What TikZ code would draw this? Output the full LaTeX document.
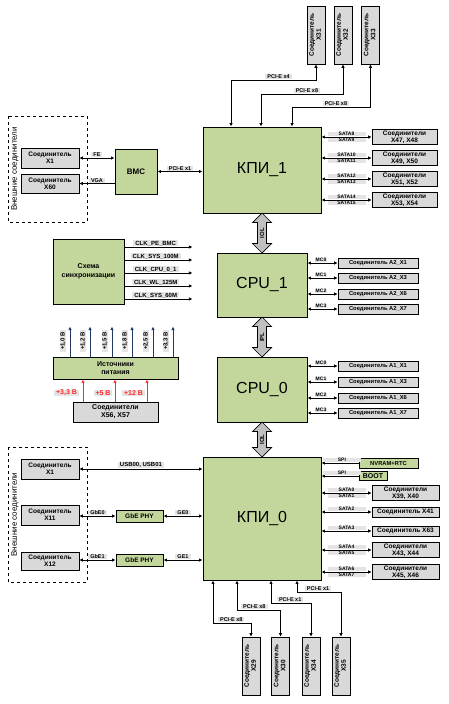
\documentclass[tikz,border=0pt]{standalone}
\usepackage{fontspec}
\setmainfont{Liberation Sans}
\usetikzlibrary{arrows.meta,shapes.arrows}
\definecolor{blkgreen}{HTML}{C3D69B}
\definecolor{conngray}{HTML}{D9D9D9}
\definecolor{lblgray}{HTML}{E4E4E4}
\definecolor{fatgray}{HTML}{C0C0C0}
\definecolor{railblue}{HTML}{1F3864}
\definecolor{pwrred}{HTML}{FF2A2A}
\newcommand{\fs}[1]{\fontsize{#1}{#1}\selectfont}
\newcommand{\vlab}[1]{\rotatebox{90}{\begin{tabular}{@{}c@{}}#1\end{tabular}}}
\tikzset{
  blk/.style={draw, fill=blkgreen, line width=0.9pt, align=center, inner sep=1pt},
  conn/.style={draw, fill=conngray, line width=0.8pt, align=center, inner sep=0.5pt,
    font=\fontsize{6.5}{7}\selectfont\bfseries},
  vconn/.style={conn, minimum width=18pt, minimum height=58pt},
  lbl/.style={fill=lblgray, inner sep=0.5pt, inner xsep=2pt, font=\fs{5.5}\bfseries},
  satalbl/.style={lbl, minimum width=38pt, font=\fs{5}\bfseries},
  fatarr/.style={double arrow, draw, fill=fatgray, line width=0.7pt, rotate=90,
    double arrow head extend=5pt, inner sep=2pt, font=\fs{6}\bfseries},
  ext/.style={draw, dashed, line width=0.8pt},
}
\begin{document}
\begin{tikzpicture}[x=1pt,y=-1pt,line width=0.8pt,>={Latex[length=3.5pt,width=3.5pt]}]
\useasboundingbox (0,0) rectangle (448,704);

% upper part: KPI_1
\node[blk, minimum width=118pt, minimum height=86pt, font=\fs{16}] (kpi1) at (262,170) {КПИ\_1};
\node[blk, minimum width=42pt, minimum height=45pt, font=\fs{8}\bfseries] (bmc) at (136,171.5) {BMC};
\draw[ext] (8,116) rectangle (87,222);
\node[rotate=90, font=\fs{8}] (extup) at (15,169) {Внешние соединители};
\node[conn, minimum width=58pt, minimum height=20pt] (x1up) at (50,158) {Соединитель\\X1};
\node[conn, minimum width=58pt, minimum height=19pt] (x60) at (50,183.5) {Соединитель\\X60};
\draw[<->] (x1up.east) -- (bmc.west |- x1up.east) node[lbl, midway, above=0.5pt] {FE};
\draw[->] (bmc.west |- x60.east) -- (x60.east) node[lbl, midway, above=0.5pt] {VGA};
\draw[<->] (bmc.east) -- (kpi1.west |- bmc.east) node[lbl, midway, above=0.5pt] {PCI-E x1};

\node[vconn] (x31) at (316,35) {\vlab{Соединитель\\X31}};
\node[vconn] (x32) at (343,35) {\vlab{Соединитель\\X32}};
\node[vconn] (x33) at (370.5,35) {\vlab{Соединитель\\X33}};
\draw[<->] (231,0 |- kpi1.north) -- (231,80) -| node[lbl, above=0.3pt, pos=0.28] {PCI-E x4} (x31.south);
\draw[<->] (261,0 |- kpi1.north) -- (261,94) -| node[lbl, above=0.3pt, pos=0.28] {PCI-E x8} (x32.south);
\draw[<->] (292,0 |- kpi1.north) -- (292,107) -| node[lbl, above=0.3pt, pos=0.28] {PCI-E x8} (x33.south);

\foreach \n/\y/\a/\b/\t in {s47/137/8/9/{X47, X48}, s49/158/10/11/{X49, X50},
    s51/179/12/13/{X51, X52}, s53/200/14/15/{X53, X54}} {
  \node[conn, minimum width=65pt, minimum height=15pt] (\n) at (404.5,\y) {Соединители\\\t};
  \draw[<->] (kpi1.east |- \n.west) -- (\n.west)
    node[satalbl, midway, above=0.5pt] {SATA\a}
    node[satalbl, midway, below=0.5pt] {SATA\b};
}

% CPUs
\node[fatarr, minimum height=40pt] (iol1) at (262,233) {IOL};
\node[blk, minimum width=90pt, minimum height=64pt, font=\fs{16}] (cpu1) at (262,285) {CPU\_1};
\node[fatarr, minimum height=40pt] (ipl) at (262,337) {IPL};
\node[blk, minimum width=90pt, minimum height=65pt, font=\fs{16}] (cpu0) at (262,389.5) {CPU\_0};
\node[fatarr, minimum height=35pt] (iol0) at (262,439.5) {IOL};

\foreach \k/\s/\y in {0/1/263, 1/3/278, 2/6/294, 3/7/309} {
  \node[conn, minimum width=80pt, minimum height=10pt, font=\fs{5.8}\bfseries] (mcb\k) at (378,\y) {Соединитель A2\_X\s};
  \draw[<->] (cpu1.east |- mcb\k.west) -- (mcb\k.west) node[lbl, inner xsep=0.5pt, pos=0.45, above=0.2pt, font=\fs{5}\bfseries] {MC\k};
}
\foreach \k/\s/\y in {0/1/366, 1/3/382, 2/6/398, 3/7/413} {
  \node[conn, minimum width=80pt, minimum height=10pt, font=\fs{5.8}\bfseries] (mca\k) at (378,\y) {Соединитель A1\_X\s};
  \draw[<->] (cpu0.east |- mca\k.west) -- (mca\k.west) node[lbl, inner xsep=0.5pt, pos=0.45, above=0.2pt, font=\fs{5}\bfseries] {MC\k};
}

% clocks and power
\node[blk, minimum width=71pt, minimum height=65pt, font=\fontsize{7}{9}\selectfont\bfseries] (sync) at (88.5,271.5) {Схема\\синхронизации};
\foreach \y/\t in {247/CLK\_PE\_BMC, 260/CLK\_SYS\_100M, 273/CLK\_CPU\_0\_1, 286/CLK\_WL\_125M, 299/CLK\_SYS\_60M}
  \draw[->] (sync.east |- 0,\y) -- ++(68,0) node[lbl, pos=0.46, above=0.3pt, font=\fs{6}\bfseries] {\t};

\node[blk, minimum width=125pt, minimum height=22pt, font=\fontsize{7}{8.5}\selectfont\bfseries] (pwr) at (115.5,368) {Источники\\питания};
\foreach \x/\v in {70/{+1,0 В}, 90/{+1,2 В}, 112/{+1,5 В}, 132/{+1,8 В}, 153/{+2,5 В}, 173/{+3,3 В}} {
  \draw[->, railblue] (\x,0 |- pwr.north) -- ++(0,-30);
  \node[lbl, rotate=90, font=\fs{6}\bfseries] (rail\x) at (\x-7,341) {\v};
}
\node[conn, minimum width=85pt, minimum height=20pt, font=\fontsize{7}{8}\selectfont\bfseries] (psrc) at (115.5,412) {Соединители\\X56, X57};
\foreach \x/\v/\lx in {83/{+3,3 В}/66.5, 115/{+5 В}/103, 147/{+12 В}/133.5} {
  \draw[->, pwrred] (\x,0 |- psrc.north) -- (\x,0 |- pwr.south);
  \node[lbl, text=pwrred, font=\fs{7}\bfseries] (in\x) at (\lx,393) {\v};
}

% lower part: KPI_0
\node[blk, minimum width=118pt, minimum height=123pt, font=\fs{16}] (kpi0) at (262,518.5) {КПИ\_0};
\draw[ext] (8,447) rectangle (87,582);
\node[rotate=90, font=\fs{8}] (extdn) at (15,514.5) {Внешние соединители};
\node[conn, minimum width=58pt, minimum height=20pt] (x1dn) at (50,469) {Соединитель\\X1};
\node[conn, minimum width=58pt, minimum height=20pt] (x11) at (50,515) {Соединитель\\X11};
\node[conn, minimum width=58pt, minimum height=18pt] (x12) at (50,561) {Соединитель\\X12};
\node[blk, minimum width=47pt, minimum height=12pt, font=\fs{6.5}\bfseries] (phy0) at (139.5,516) {GbE PHY};
\node[blk, minimum width=47pt, minimum height=12pt, font=\fs{6.5}\bfseries] (phy1) at (139.5,560) {GbE PHY};
\draw[<->] (x1dn.east) -- (kpi0.west |- x1dn.east) node[lbl, midway, above=0.5pt, font=\fs{6}\bfseries] {USB00, USB01};
\draw[<->] (x11.east |- phy0.west) -- (phy0.west) node[lbl, midway, above=0.5pt] {GbE0};
\draw[<->] (phy0.east) -- (kpi0.west |- phy0.east) node[lbl, midway, above=0.5pt] {GE0};
\draw[<->] (x12.east |- phy1.west) -- (phy1.west) node[lbl, midway, above=0.5pt] {GbE1};
\draw[<->] (phy1.east) -- (kpi0.west |- phy1.east) node[lbl, midway, above=0.5pt] {GE1};

\node[blk, minimum width=59pt, minimum height=10pt, font=\fs{5.8}\bfseries] (nvram) at (388.5,463) {NVRAM+RTC};
\node[blk, minimum width=28pt, minimum height=9pt, font=\fs{7}\bfseries] (boot) at (373,476) {BOOT};
\draw[<-] (kpi0.east |- nvram.west) -- (nvram.west) node[satalbl, pos=0.55, above=0.3pt] {SPI};
\draw[<-] (kpi0.east |- boot.west) -- (boot.west) node[satalbl, pos=0.55, above=0.3pt] {SPI};

\foreach \n/\y/\a/\b/\t in {s39/493/0/1/{X39, X40}, s43/550/4/5/{X43, X44}, s45/572/6/7/{X45, X46}} {
  \node[conn, minimum width=67pt, minimum height=15pt] (\n) at (405.5,\y) {Соединители\\\t};
  \draw[<->] (kpi0.east |- \n.west) -- (\n.west)
    node[satalbl, midway, above=0.5pt] {SATA\a}
    node[satalbl, midway, below=0.5pt] {SATA\b};
}
\node[conn, minimum width=67pt, minimum height=10pt] (s41) at (405.5,512) {Соединитель X41};
\node[conn, minimum width=67pt, minimum height=10pt] (s63) at (405.5,531) {Соединитель X63};
\draw[<->] (kpi0.east |- s41.west) -- (s41.west) node[satalbl, midway, above=0.5pt] {SATA2};
\draw[<->] (kpi0.east |- s63.west) -- (s63.west) node[satalbl, midway, above=0.5pt] {SATA3};

\node[vconn] (x29) at (251,666) {\vlab{Соединитель\\X29}};
\node[vconn] (x30) at (280.5,666) {\vlab{Соединитель\\X30}};
\node[vconn] (x34) at (311,666) {\vlab{Соединитель\\X34}};
\node[vconn] (x35) at (341,666) {\vlab{Соединитель\\X35}};
\draw[<->] (213,0 |- kpi0.south) -- (213,623) -| node[lbl, above=0.3pt, pos=0.24] {PCI-E x8} (x29.north);
\draw[<->] (237,0 |- kpi0.south) -- (237,610) -| node[lbl, above=0.3pt, pos=0.2] {PCI-E x8} (x30.north);
\draw[<->] (271,0 |- kpi0.south) -- (271,603) -| node[lbl, above=0.3pt, pos=0.24] {PCI-E x1} (x34.north);
\draw[<->] (297,0 |- kpi0.south) -- (297,592) -| node[lbl, above=0.3pt, pos=0.24] {PCI-E x1} (x35.north);
\end{tikzpicture}
\end{document}
